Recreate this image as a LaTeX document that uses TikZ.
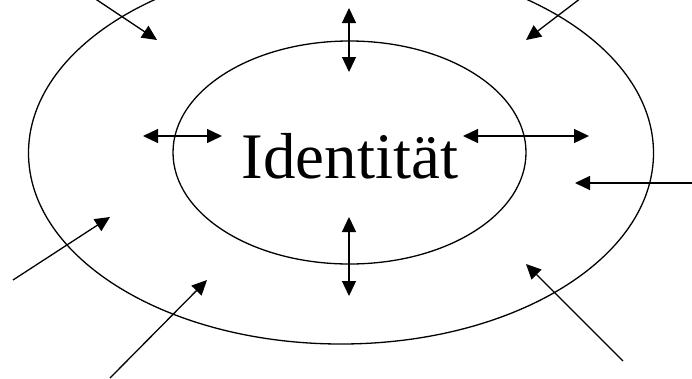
\documentclass[tikz,border=0pt]{standalone}
\usepackage{fontspec}
\setmainfont{Liberation Serif}
\usetikzlibrary{shapes.geometric,arrows.meta}
\begin{document}
\begin{tikzpicture}[x=1pt,y=-1pt,
  ring/.style={draw,ellipse,line width=1.3pt,inner sep=0pt},
  arr/.style={line width=1.3pt,-{Triangle[length=15pt,width=14pt]}},
  darr/.style={line width=1.3pt,{Triangle[length=15pt,width=14pt]}-{Triangle[length=15pt,width=14pt]}}]
\useasboundingbox (0,0) rectangle (692,378);
\clip (0,0) rectangle (692,378);
\node[ring,minimum width=625pt,minimum height=382pt] (outer) at (341,153) {};
\node[ring,minimum width=353pt,minimum height=223pt] (inner) at (349.5,152.5) {};
\node[font=\fontsize{65}{70}\selectfont,inner sep=0pt] (id) at (350,156) {Identität};
% incoming arrows
\coordinate (a1s) at (94,-2);  \coordinate (a1e) at (157,40);
\coordinate (a2s) at (581,-2); \coordinate (a2e) at (526,40);
\coordinate (a3s) at (694,183); \coordinate (a3e) at (575,183);
\coordinate (a4s) at (13,280); \coordinate (a4e) at (110,217);
\coordinate (a5s) at (110,378); \coordinate (a5e) at (207,280);
\coordinate (a6s) at (623,361); \coordinate (a6e) at (526,264);
\draw[arr] (a1s) -- (a1e);
\draw[arr] (a2s) -- (a2e);
\draw[arr] (a3s) -- (a3e);
\draw[arr] (a4s) -- (a4e);
\draw[arr] (a5s) -- (a5e);
\draw[arr] (a6s) -- (a6e);
% double arrows
\coordinate (b1s) at (143,136); \coordinate (b1e) at (222,136);
\coordinate (b2s) at (463,136); \coordinate (b2e) at (589,136);
\coordinate (b3s) at (349,8);   \coordinate (b3e) at (349,72);
\coordinate (b4s) at (349,217); \coordinate (b4e) at (349,296);
\draw[darr] (b1s) -- (b1e);
\draw[darr] (b2s) -- (b2e);
\draw[darr] (b3s) -- (b3e);
\draw[darr] (b4s) -- (b4e);
\end{tikzpicture}
\end{document}
